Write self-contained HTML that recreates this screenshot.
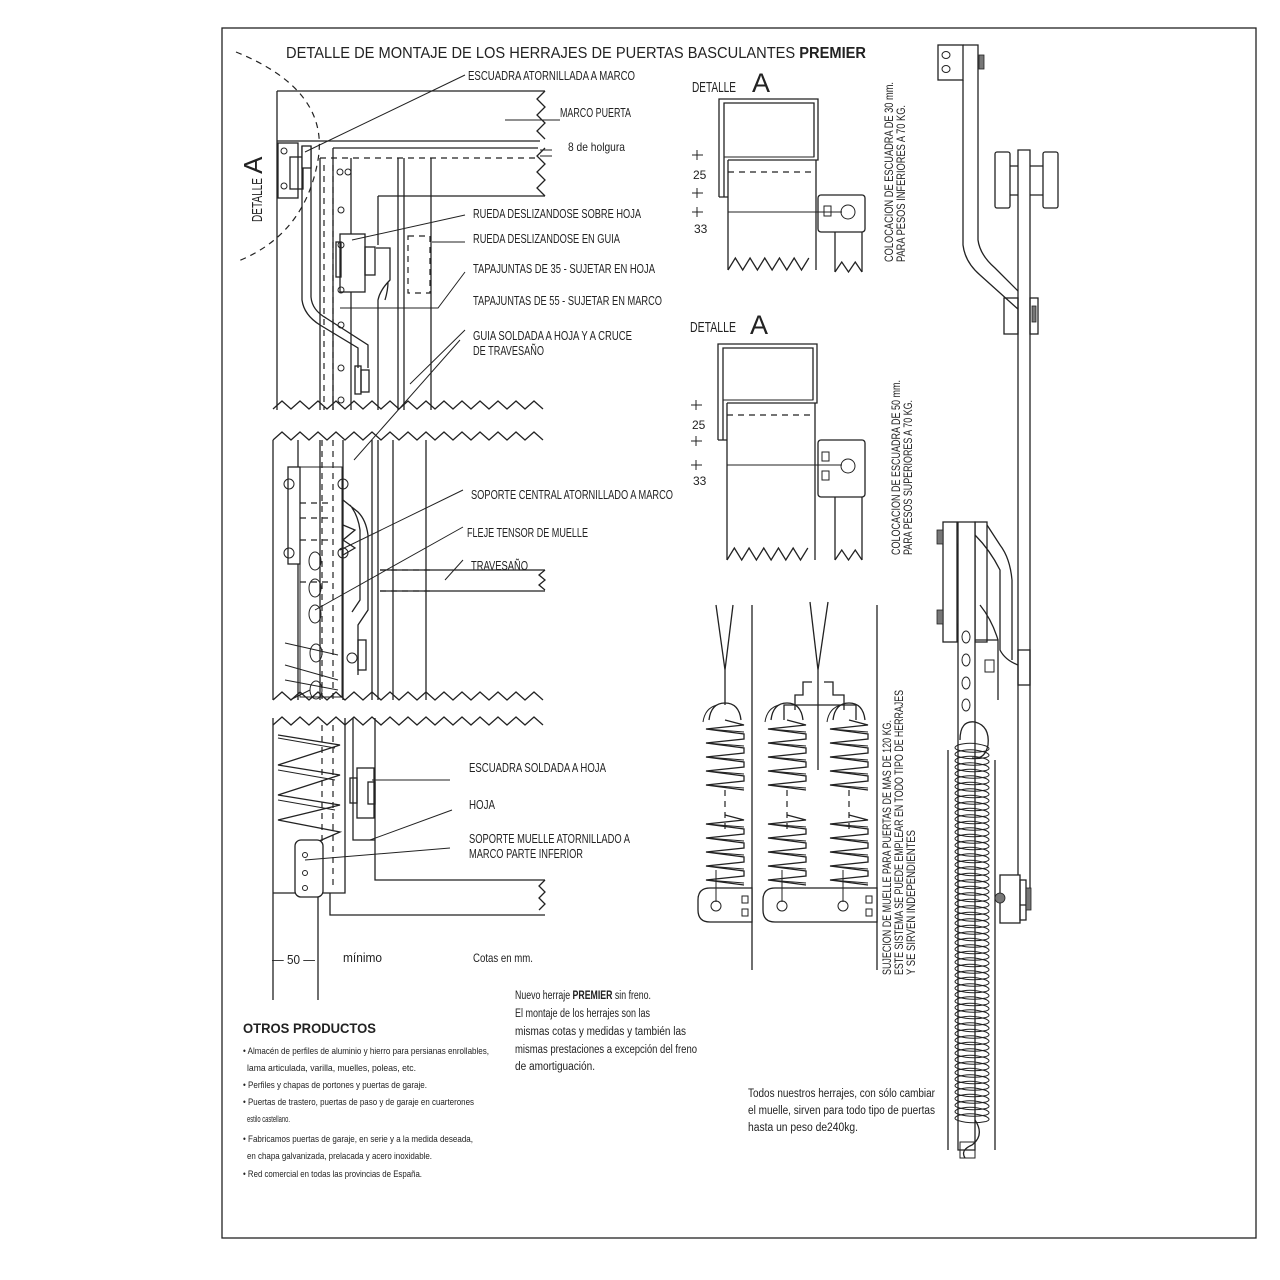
<!DOCTYPE html>
<html><head><meta charset="utf-8"><style>
html,body{margin:0;padding:0;background:#fff}
svg{display:block}
text{font-family:"Liberation Sans Narrow","Liberation Sans",sans-serif;fill:#222}
.l{stroke:#222;stroke-width:1.3;fill:none}
.t{stroke:#222;stroke-width:1;fill:none}
.d{stroke:#222;stroke-width:1.2;fill:none;stroke-dasharray:6 5}
.w{stroke:#222;stroke-width:1.3;fill:#fff}
.g{fill:#777;stroke:#222;stroke-width:.8}
</style></head><body>
<svg id="s" width="1280" height="1280" viewBox="0 0 1280 1280" xmlns="http://www.w3.org/2000/svg">
<rect x="0" y="0" width="1280" height="1280" fill="#fff"/>
<rect x="222" y="28" width="1034" height="1210" class="l" stroke-width="1.6"/>

<text x="286" y="58" font-size="15.5" textLength="580" lengthAdjust="spacingAndGlyphs">DETALLE DE MONTAJE DE LOS HERRAJES DE PUERTAS BASCULANTES <tspan font-weight="bold">PREMIER</tspan></text>

<path d="M236,52 Q330,90 318,160 Q305,235 236,262" class="d"/>
<text transform="translate(262,222) rotate(-90)" font-size="15"><tspan textLength="44" lengthAdjust="spacingAndGlyphs">DETALLE</tspan> <tspan font-size="26">A</tspan></text>

<g>
<path d="M277,91 H545 M277,91 V410 M277,141 H540 M333,148 H538 M333,148 V410 M378,196 H545" class="l"/>
<path d="M320,158 H538" class="d"/>
<path d="M320,158 V410 M351,158 V410 M398,158 V410 M404,158 V410 M431,158 V410" class="l"/>
<path d="M324,165 V410 M333,165 V410" class="d"/>
<rect x="278" y="143" width="20" height="55" class="l"/>
<circle cx="284" cy="151" r="3" class="t"/><circle cx="284" cy="186" r="3" class="t"/>
<rect x="290" y="157" width="13" height="32" class="l"/>
<path d="M302,146 V300 Q304,315 320,325 L358,348 V368 M311,146 V297 Q312,310 326,318 L368,345 V368" class="l"/>
<rect x="302" y="146" width="9" height="22" class="w"/>
<rect x="340" y="234" width="25" height="58" class="w"/>
<rect x="336" y="242" width="5" height="35" class="l"/>
<rect x="365" y="247" width="10" height="28" class="l"/>
<path d="M376,248 H390 V280 Q380,290 378,300 V410 M385,300 Q388,290 388,282" class="l"/>
<path d="M378,196 V245" class="l"/>
<rect x="408" y="236" width="22" height="57" class="d"/>
<rect x="361" y="370" width="8" height="22" class="l"/>
<rect x="355" y="366" width="6" height="28" class="l"/>
<circle cx="340" cy="172" r="3" class="t"/><circle cx="348" cy="172" r="3" class="t"/>
<circle cx="341" cy="210" r="3" class="t"/><circle cx="341" cy="245" r="3" class="t"/>
<circle cx="341" cy="290" r="3" class="t"/><circle cx="341" cy="325" r="3" class="t"/>
<circle cx="341" cy="368" r="3" class="t"/><circle cx="341" cy="400" r="3" class="t"/>
</g>
<path d="M305,152 L465,75 M505,120 H560 M540,150 H552 M540,156 H552 M352,240 L465,215 M432,242 L465,242 M340,308 L438,308 L465,272 M410,384 L465,330 M354,460 L460,340" class="t"/>

<g font-size="12.5" lengthAdjust="spacingAndGlyphs">
<text x="468" y="80" textLength="167" lengthAdjust="spacingAndGlyphs">ESCUADRA ATORNILLADA A MARCO</text>
<text x="560" y="117" textLength="71" lengthAdjust="spacingAndGlyphs">MARCO PUERTA</text>
<text x="568" y="151" font-size="12" textLength="57" lengthAdjust="spacingAndGlyphs">8 de holgura</text>
<text x="473" y="218" textLength="168" lengthAdjust="spacingAndGlyphs">RUEDA DESLIZANDOSE SOBRE HOJA</text>
<text x="473" y="243" textLength="147" lengthAdjust="spacingAndGlyphs">RUEDA DESLIZANDOSE EN GUIA</text>
<text x="473" y="273" textLength="182" lengthAdjust="spacingAndGlyphs">TAPAJUNTAS DE 35 - SUJETAR EN HOJA</text>
<text x="473" y="305" textLength="189" lengthAdjust="spacingAndGlyphs">TAPAJUNTAS DE 55 - SUJETAR EN MARCO</text>
<text x="473" y="340" textLength="159" lengthAdjust="spacingAndGlyphs">GUIA SOLDADA A HOJA Y A CRUCE</text>
<text x="473" y="355" textLength="71" lengthAdjust="spacingAndGlyphs">DE TRAVESAÑO</text>
</g>

<g>
<path d="M273,440 V700 M298,440 V700 M320,440 V700 M343,440 V700 M372,440 V700 M378,440 V700 M393,440 V700 M426,440 V700" class="l"/>
<path d="M322,440 V700 M333,440 V700" class="d"/>
<rect x="288" y="467" width="12" height="97" class="w"/>
<rect x="300" y="467" width="42" height="230" class="t"/>
<path d="M300,503 H330 M300,518 H330 M300,540 H330 M300,582 H330" class="d"/>
<path d="M343,500 L358,512 Q366,520 368,535 V610 L358,625 V675 M350,505 Q358,515 360,530 V600 L352,612" class="l"/>
<path d="M343,525 L355,530 L343,540 L355,548 L343,555" class="l"/>
<rect x="358" y="640" width="8" height="30" class="l"/>
<circle cx="289" cy="484" r="5" class="t"/><circle cx="289" cy="553" r="5" class="t"/>
<circle cx="343" cy="484" r="5" class="t"/><circle cx="343" cy="553" r="5" class="t"/><circle cx="352" cy="658" r="5" class="t"/>
<ellipse cx="315" cy="561" rx="6" ry="9" class="t"/><ellipse cx="315" cy="588" rx="6" ry="9" class="t"/>
<ellipse cx="315" cy="614" rx="6" ry="9" class="t"/><ellipse cx="316" cy="653" rx="6" ry="9" class="t"/>
<ellipse cx="316" cy="690" rx="6" ry="9" class="t"/>
<path d="M285,643 L338,655 M285,665 L338,680 M285,680 L338,690 M290,700 L310,690" class="t"/>
<path d="M380,570 H545 M380,591 H545" class="l"/>
<path d="M380,570 H430 M380,591 H430" class="d"/>
</g>
<path d="M340,550 L463,490 M315,610 L463,527 M445,580 L463,560" class="t"/>
<text x="471" y="499" font-size="12.5" textLength="202" lengthAdjust="spacingAndGlyphs">SOPORTE CENTRAL ATORNILLADO A MARCO</text>
<text x="467" y="537" font-size="12.5" textLength="121" lengthAdjust="spacingAndGlyphs">FLEJE TENSOR DE MUELLE</text>
<text x="471" y="570" font-size="12.5" textLength="57" lengthAdjust="spacingAndGlyphs">TRAVESAÑO</text>

<g>
<path d="M273,718 V1000 M273,893 H345 V718 M318,893 V1000 M330,893 V915 H545 M375,718 V880 H545 M353,718 V840 H375" class="l"/>
<path d="M322,725 V890 M333,725 V890" class="d"/>
<path d="M278,735 L340,745 L278,765 L340,775 L278,795 L340,805 L278,820 L340,832 L310,845" class="l"/>
<path d="M278,738 L335,748 M278,770 L335,780 M278,800 L335,810" class="t"/>
<rect x="295" y="840" width="28" height="57" rx="6" class="w"/>
<circle cx="305" cy="855" r="2.5" class="t"/><circle cx="305" cy="873" r="2.5" class="t"/><circle cx="305" cy="888" r="2.5" class="t"/>
<rect x="357" y="768" width="17" height="50" class="l"/>
<rect x="350" y="778" width="7" height="25" class="l"/>
<rect x="368" y="782" width="7" height="22" class="l"/>
</g>
<path d="M372,780 H450 M370,840 L452,810 M305,860 L450,848" class="t"/>
<text x="469" y="772" font-size="12.5" textLength="137" lengthAdjust="spacingAndGlyphs">ESCUADRA SOLDADA A HOJA</text>
<text x="469" y="809" font-size="12.5" textLength="26" lengthAdjust="spacingAndGlyphs">HOJA</text>
<text x="469" y="843" font-size="12.5" textLength="161" lengthAdjust="spacingAndGlyphs">SOPORTE MUELLE ATORNILLADO A</text>
<text x="469" y="858" font-size="12.5" textLength="114" lengthAdjust="spacingAndGlyphs">MARCO PARTE INFERIOR</text>
<text x="272" y="964" font-size="13" textLength="43" lengthAdjust="spacingAndGlyphs">— 50 —</text>
<text x="343" y="962" font-size="13" textLength="39" lengthAdjust="spacingAndGlyphs">mínimo</text>
<text x="473" y="962" font-size="12" textLength="60" lengthAdjust="spacingAndGlyphs">Cotas en mm.</text>

<text x="692" y="92" font-size="15" textLength="44" lengthAdjust="spacingAndGlyphs">DETALLE</text><text x="752" y="92" font-size="27">A</text>
<path d="M719,197 V99 H818 V160 H728 M724,197 V103 H814 V157 M719,197 H728" class="l"/>
<rect x="724" y="103" width="90" height="54" class="t"/>
<path d="M728,160 V270 M816,160 V270" class="l"/>
<path d="M728,172 H816" class="d"/>
<path d="M728,212 H842" class="t"/>
<rect x="818" y="195" width="47" height="37" rx="3" class="l"/>
<rect x="824" y="206" width="7" height="10" class="t"/>
<circle cx="848" cy="212" r="7" class="t"/>
<path d="M835,232 V272 M862,232 V272" class="l"/>
<path d="M692,155 H703 M697,150 V160 M692,193 H703 M697,188 V198 M692,212 H703 M697,207 V217" class="t"/>
<text x="693" y="179" font-size="12">25</text><text x="694" y="233" font-size="12">33</text>

<text x="690" y="332" font-size="15" textLength="46" lengthAdjust="spacingAndGlyphs">DETALLE</text><text x="750" y="334" font-size="27">A</text>
<path d="M718,440 V344 H817 V403 H727 M723,440 V348 H813 V400 M718,440 H727" class="l"/>
<rect x="723" y="348" width="90" height="52" class="t"/>
<path d="M727,403 V560 M815,403 V560" class="l"/>
<path d="M727,415 H815" class="d"/>
<path d="M727,465 H842" class="t"/>
<rect x="818" y="440" width="47" height="57" rx="3" class="l"/>
<rect x="822" y="452" width="7" height="9" class="t"/><rect x="822" y="471" width="7" height="9" class="t"/>
<circle cx="848" cy="466" r="7" class="t"/>
<path d="M835,497 V560 M862,497 V560" class="l"/>
<path d="M691,405 H702 M696,400 V410 M691,441 H702 M696,436 V446 M691,465 H702 M696,460 V470" class="t"/>
<text x="692" y="429" font-size="12">25</text><text x="693" y="485" font-size="12">33</text>

<text transform="translate(893,262) rotate(-90)" font-size="11.5" textLength="180" lengthAdjust="spacingAndGlyphs">COLOCACION DE ESCUADRA DE 30 mm.</text>
<text transform="translate(905,262) rotate(-90)" font-size="11.5" textLength="157" lengthAdjust="spacingAndGlyphs">PARA PESOS INFERIORES A 70 KG.</text>
<text transform="translate(900,555) rotate(-90)" font-size="11.5" textLength="175" lengthAdjust="spacingAndGlyphs">COLOCACION DE ESCUADRA DE 50 mm.</text>
<text transform="translate(912,555) rotate(-90)" font-size="11.5" textLength="155" lengthAdjust="spacingAndGlyphs">PARA PESOS SUPERIORES A 70 KG.</text>
<text transform="translate(891,975) rotate(-90)" font-size="11.5" textLength="255" lengthAdjust="spacingAndGlyphs">SUJECION DE MUELLE PARA PUERTAS DE MAS DE 120 KG.</text>
<text transform="translate(903,975) rotate(-90)" font-size="11.5" textLength="285" lengthAdjust="spacingAndGlyphs">ESTE SISTEMA SE PUEDE EMPLEAR EN TODO TIPO DE HERRAJES</text>
<text transform="translate(915,975) rotate(-90)" font-size="11.5" textLength="145" lengthAdjust="spacingAndGlyphs">Y SE SIRVEN INDEPENDIENTES</text>

<g>
<path d="M752,605 V970 M877,605 V970" class="l"/>
<path d="M716,605 L725,670 L733,605 M725,670 V705" class="l"/>
<path d="M810,602 L818,670 L828,602 M818,670 V770" class="l" stroke-width="2"/>
<path d="M795,710 V695 H803 V682 H812 M824,682 H833 V695 H844 V710 M784,720 V705 H856 V720" class="l"/>
<path d="M725,790 V830 M787,790 V830 M849,790 V830" class="d"/>
<path d="M698,900 Q698,888 710,888 H752 V922 H710 Q698,922 698,910 Z" class="w"/>
<circle cx="716" cy="906" r="5" class="t"/>
<rect x="742" y="896" width="6" height="7" class="t"/><rect x="742" y="909" width="6" height="7" class="t"/>
<path d="M763,900 Q763,888 775,888 H877 V922 H775 Q763,922 763,910 Z" class="w"/>
<circle cx="782" cy="906" r="5" class="t"/><circle cx="843" cy="906" r="5" class="t"/>
<rect x="866" y="896" width="6" height="7" class="t"/><rect x="866" y="909" width="6" height="7" class="t"/>
<path d="M716,902 V870 M782,902 V870 M843,902 V870" class="t"/>
</g>

<g>
<rect x="938" y="45" width="25" height="35" class="l"/>
<ellipse cx="946" cy="55" rx="4" ry="3.5" class="t"/><ellipse cx="946" cy="69" rx="4" ry="3.5" class="t"/>
<rect x="979" y="55" width="5" height="14" class="g"/>
<path d="M963,45 H978 V240 Q980,255 995,268 L1019,292 M963,80 V245 Q965,262 980,275 L1019,310" class="l"/>
<rect x="995" y="152" width="15" height="56" rx="2" class="w"/>
<rect x="1043" y="152" width="15" height="56" rx="2" class="w"/>
<path d="M1010,166 H1043 M1010,195 H1043" class="l"/>
<path d="M1018,150 H1030 V905 H1018 Z" class="w"/>
<rect x="1004" y="298" width="14" height="36" class="l"/>
<rect x="1030" y="298" width="8" height="36" class="l"/>
<rect x="1032" y="306" width="4" height="16" class="g"/>
<rect x="943" y="522" width="14" height="120" class="w"/>
<rect x="975" y="522" width="12" height="120" class="w"/>
<rect x="937" y="530" width="6" height="14" class="g"/><rect x="937" y="610" width="6" height="14" class="g"/>
<rect x="957" y="530" width="5" height="14" class="g"/><rect x="957" y="610" width="5" height="14" class="g"/>
<path d="M958,522 H975 V1150 H958 Z" class="w"/>
<path d="M987,525 L1000,545 Q1010,558 1012,580 V660 M975,535 Q990,550 1000,570 V650 Q1005,660 1018,665" class="l"/>
<path d="M975,640 H998 V700 M980,605 Q992,620 998,640" class="l"/>
<rect x="1018" y="650" width="12" height="35" class="l"/>
<rect x="985" y="660" width="9" height="12" class="t"/>
<ellipse cx="966" cy="637" rx="4" ry="6" class="t"/><ellipse cx="966" cy="660" rx="4" ry="6" class="t"/>
<ellipse cx="966" cy="683" rx="4" ry="6" class="t"/><ellipse cx="966" cy="705" rx="4" ry="6" class="t"/>
<path d="M960,740 Q960,720 975,722 Q990,726 988,745 Q985,760 972,758" class="l" stroke-width="2"/>
<path d="M948,750 V1150 M995,760 V1150" class="l"/>
<path d="M975,1120 Q985,1135 972,1145 Q960,1150 965,1158" class="l" stroke-width="2"/>
<rect x="960" y="1142" width="15" height="16" class="t"/>
<rect x="1000" y="875" width="20" height="48" class="w"/>
<rect x="1020" y="880" width="6" height="40" class="l"/>
<rect x="1026" y="888" width="5" height="22" class="g"/>
<circle cx="1000" cy="898" r="5" class="g"/>
</g>

<text x="515" y="999" font-size="11.5" textLength="136" lengthAdjust="spacingAndGlyphs">Nuevo herraje <tspan font-weight="bold">PREMIER</tspan> sin freno.</text>
<text x="515" y="1017" font-size="11.5" textLength="135" lengthAdjust="spacingAndGlyphs">El montaje de los herrajes son las</text>
<text x="515" y="1035" font-size="11.5" textLength="171" lengthAdjust="spacingAndGlyphs">mismas cotas y medidas y también las</text>
<text x="515" y="1053" font-size="11.5" textLength="182" lengthAdjust="spacingAndGlyphs">mismas prestaciones a excepción del freno</text>
<text x="515" y="1070" font-size="11.5" textLength="80" lengthAdjust="spacingAndGlyphs">de amortiguación.</text>

<text x="243" y="1033" font-size="14" font-weight="bold" textLength="133" lengthAdjust="spacingAndGlyphs">OTROS PRODUCTOS</text>
<g font-size="9.5">
<text x="243" y="1054" textLength="246" lengthAdjust="spacingAndGlyphs">• Almacén de perfiles de aluminio y hierro para persianas enrollables,</text>
<text x="247" y="1071" textLength="169" lengthAdjust="spacingAndGlyphs">lama articulada, varilla, muelles, poleas, etc.</text>
<text x="243" y="1088" textLength="184" lengthAdjust="spacingAndGlyphs">• Perfiles y chapas de portones y puertas de garaje.</text>
<text x="243" y="1105" textLength="231" lengthAdjust="spacingAndGlyphs">• Puertas de trastero, puertas de paso y de garaje en cuarterones</text>
<text x="247" y="1122" textLength="43" lengthAdjust="spacingAndGlyphs">estilo castellano.</text>
<text x="243" y="1142" textLength="230" lengthAdjust="spacingAndGlyphs">• Fabricamos puertas de garaje, en serie y a la medida deseada,</text>
<text x="247" y="1159" textLength="185" lengthAdjust="spacingAndGlyphs">en chapa galvanizada, prelacada y acero inoxidable.</text>
<text x="243" y="1177" textLength="179" lengthAdjust="spacingAndGlyphs">• Red comercial en todas las provincias de España.</text>
</g>

<text x="748" y="1097" font-size="11.5" textLength="187" lengthAdjust="spacingAndGlyphs">Todos nuestros herrajes, con sólo cambiar</text>
<text x="748" y="1114" font-size="11.5" textLength="187" lengthAdjust="spacingAndGlyphs">el muelle, sirven para todo tipo de puertas</text>
<text x="748" y="1131" font-size="11.5" textLength="110" lengthAdjust="spacingAndGlyphs">hasta un peso de240kg.</text>
</svg>
<script>
var s=document.getElementById('s'),NS='http://www.w3.org/2000/svg';
function P(d,c,w){var p=document.createElementNS(NS,'path');p.setAttribute('d',d);p.setAttribute('class',c||'l');if(w)p.setAttribute('stroke-width',w);s.appendChild(p);}
function hz(x1,x2,y,a,per){var d='M'+x1+','+y,i=0;for(var x=x1+per/2;x<=x2+0.1;x+=per/2){i++;d+=' L'+x+','+(y+(i%2?a:0));}P(d);}
function vz(x,y1,y2,a,per){var d='M'+x+','+y1,i=0;for(var y=y1+per/2;y<=y2+0.1;y+=per/2){i++;d+=' L'+(x+(i%2?-a:0))+','+y;}P(d);}
hz(273,545,409,-8,18);hz(273,545,440,-8,18);hz(273,545,700,-8,18);hz(273,545,725,-8,18);
vz(545,91,141,8,16);vz(545,148,196,8,16);vz(545,570,591,6,10);vz(545,880,915,6,12);
hz(728,816,270,-12,14.7);hz(835,862,272,-10,13.5);hz(727,815,560,-12,14.7);hz(835,862,560,-10,13.5);
function spring(cx,y1,y2,w){var d='M'+cx+','+y1;for(var y=y1;y<y2;y+=14){d+=' L'+(cx+w/2)+','+(y+5)+' L'+(cx-w/2)+','+(y+9)+' L'+(cx+w/2)+','+(y+14);}P(d,'l');var d2='';for(var y=y1;y<y2;y+=14){d2+='M'+(cx-w/2)+','+(y+9)+' L'+(cx+w/2)+','+(y+12)+' ';}P(d2,'t');}
[725,787,849].forEach(function(c){spring(c,720,785,38);spring(c,815,880,38);
P('M'+(c-16)+',720 Q'+(c-14)+',703 '+c+',703 Q'+(c+14)+',703 '+(c+16)+',720','l',1.8);
P('M'+(c-22)+',722 Q'+(c-20)+',708 '+(c-8)+',705','t');});
var cd='';for(var y=745;y<1120;y+=6.5){cd+='M958,'+y+' Q971,'+(y-4)+' 986,'+(y+1)+' Q992,'+(y+4)+' 986,'+(y+6)+' Q971,'+(y+9)+' 958,'+(y+5)+' Q952,'+(y+3)+' 958,'+y+' ';}
P(cd,'t');
</script>
</body></html>
